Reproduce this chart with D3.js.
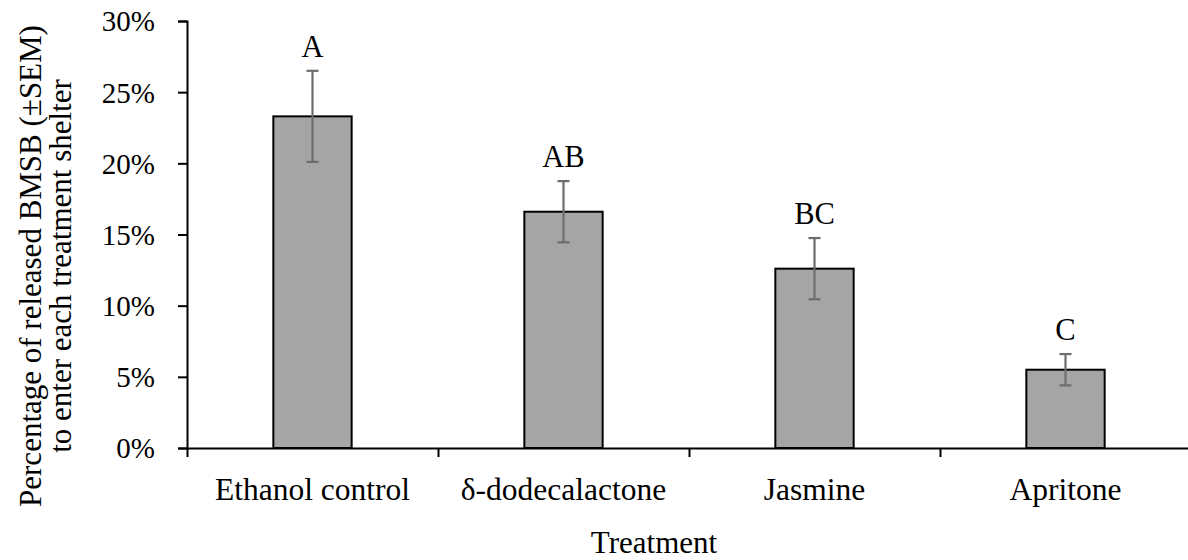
<!DOCTYPE html>
<html>
<head>
<meta charset="utf-8">
<script src="https://cdn.jsdelivr.net/npm/d3@7"></script>
<style>
  html, body { margin: 0; padding: 0; background: #fff; }
  svg { display: block; }
  text { font-family: "Liberation Serif", "Times New Roman", serif; fill: #000; }
</style>
</head>
<body>
<svg id="chart" width="1188" height="560"></svg>
<script>
// Treatments and mean percentage of released BMSB entering each shelter
const categories = ["Ethanol control", "δ-dodecalactone", "Jasmine", "Apritone"];
const means = [0.233, 0.166, 0.126, 0.055];
const sems = [0.032, 0.0215, 0.0215, 0.011];
const groupLetters = ["A", "AB", "BC", "C"];
const yTicks = [0, 0.05, 0.10, 0.15, 0.20, 0.25, 0.30];

const svg = d3.select("#chart");

const plotLeft = 187, plotRight = 1191, plotTop = 21, plotBottom = 448;

const x = d3.scaleBand().domain(categories).range([plotLeft, plotRight]).paddingInner(0).paddingOuter(0);
const y = d3.scaleLinear().domain([0, 0.30]).range([plotBottom, plotTop]);
const barW = x.bandwidth() * 0.312;

// Y axis
const yAxis = d3.axisLeft(y).tickValues(yTicks).tickFormat(d3.format(".0%")).tickSize(9).tickPadding(23);
const gy = svg.append("g").attr("transform", `translate(${plotLeft},0)`).call(yAxis);
gy.attr("font-family", null);
gy.select(".domain").attr("stroke", "#000").attr("stroke-width", 2);
gy.selectAll(".tick line").attr("stroke", "#000").attr("stroke-width", 2);
gy.selectAll(".tick text").attr("font-size", 29).attr("dy", "0.34em");

// Bars
svg.append("g").selectAll("rect").data(categories).join("rect")
  .attr("x", d => x(d) + x.bandwidth() / 2 - barW / 2)
  .attr("y", (d, i) => y(means[i]))
  .attr("width", barW)
  .attr("height", (d, i) => y(0) - y(means[i]))
  .attr("fill", "#a5a5a5")
  .attr("stroke", "#000")
  .attr("stroke-width", 2);

// X axis: ticks at category boundaries
const xb = d3.scaleLinear().domain([0, categories.length]).range([plotLeft, plotRight]);
const gx = svg.append("g").attr("transform", `translate(0,${plotBottom})`)
  .call(d3.axisBottom(xb).tickValues(d3.range(categories.length + 1)).tickFormat("").tickSizeInner(9).tickSizeOuter(0));
gx.select(".domain").attr("stroke", "#000").attr("stroke-width", 2);
gx.selectAll(".tick line").attr("stroke", "#000").attr("stroke-width", 2);

// Category labels
svg.append("g").selectAll("text").data(categories).join("text")
  .attr("x", d => x(d) + x.bandwidth() / 2)
  .attr("y", plotBottom + 52)
  .attr("text-anchor", "middle")
  .attr("font-size", 31.5)
  .text(d => d);

// Error bars (±SEM)
const cap = 6;
const eb = svg.append("g").attr("stroke", "#6d6d6d").attr("stroke-width", 2.2);
categories.forEach((c, i) => {
  const cx = x(c) + x.bandwidth() / 2;
  const y1 = y(means[i] + sems[i]), y0 = y(means[i] - sems[i]);
  eb.append("line").attr("x1", cx).attr("x2", cx).attr("y1", y1).attr("y2", y0);
  eb.append("line").attr("x1", cx - cap).attr("x2", cx + cap).attr("y1", y1).attr("y2", y1);
  eb.append("line").attr("x1", cx - cap).attr("x2", cx + cap).attr("y1", y0).attr("y2", y0);
});

// Significance letters
svg.append("g").selectAll("text").data(categories).join("text")
  .attr("x", d => x(d) + x.bandwidth() / 2)
  .attr("y", (d, i) => y(means[i] + sems[i]) - 14)
  .attr("text-anchor", "middle")
  .attr("font-size", 30.5)
  .text((d, i) => groupLetters[i]);

// Axis titles
const yTitle = svg.append("text")
  .attr("transform", "translate(41,266) rotate(-90)")
  .attr("text-anchor", "middle")
  .attr("font-size", 31);
yTitle.append("tspan").attr("x", 0).attr("dy", 0).text("Percentage of released BMSB (±SEM)");
yTitle.append("tspan").attr("x", 0).attr("dy", 30).text("to enter each treatment shelter");

svg.append("text")
  .attr("x", 654)
  .attr("y", 553)
  .attr("text-anchor", "middle")
  .attr("font-size", 31)
  .text("Treatment");
</script>
</body>
</html>
